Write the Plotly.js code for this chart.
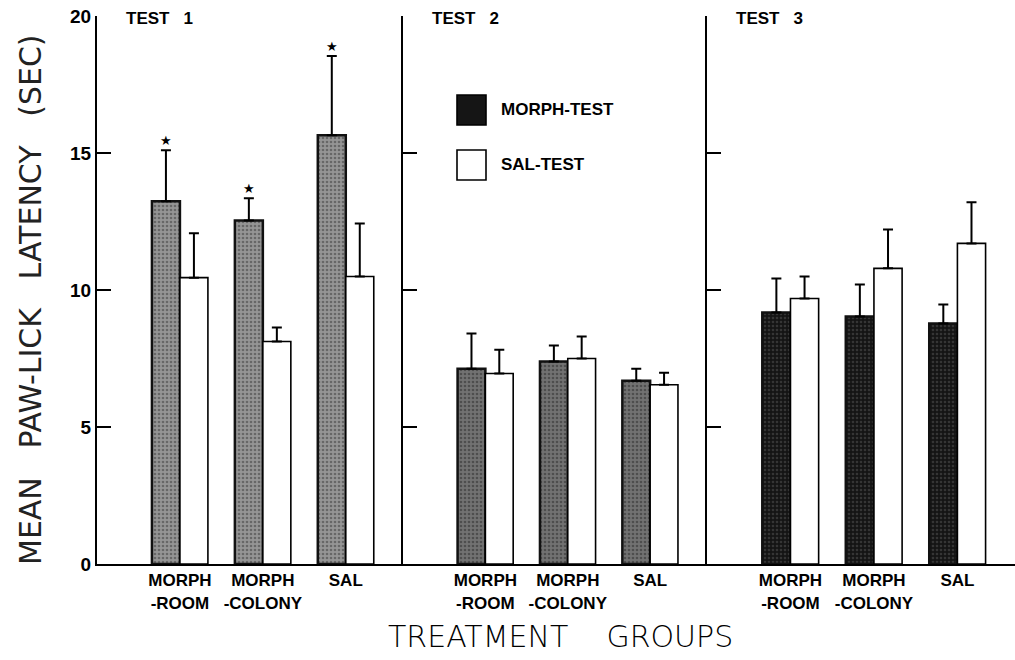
<!DOCTYPE html>
<html>
<head>
<meta charset="utf-8">
<script src="https://cdn.plot.ly/plotly-3.0.1.min.js"></script>
<style>html,body{margin:0;padding:0;background:#fff;}#chart{width:1015px;height:660px;}</style>
</head>
<body>
<div id="chart"></div>
<script>
// ---- data ----
const categories = ["MORPH<br>-ROOM", "MORPH<br>-COLONY", "SAL"];
const panelTitles = ["TEST\u00a0\u00a0\u00a01", "TEST\u00a0\u00a0\u00a02", "TEST\u00a0\u00a0\u00a03"];
const seriesNames = ["MORPH-TEST", "SAL-TEST"];

const test1Morph = [13.24, 12.54, 15.65];
const test1MorphErr = [1.86, 0.81, 2.89];
const test1Sal = [10.45, 8.12, 10.49];
const test1SalErr = [1.62, 0.51, 1.94];

const test2Morph = [7.13, 7.39, 6.69];
const test2MorphErr = [1.28, 0.58, 0.44];
const test2Sal = [6.95, 7.50, 6.54];
const test2SalErr = [0.87, 0.80, 0.44];

const test3Morph = [9.18, 9.03, 8.78];
const test3MorphErr = [1.24, 1.17, 0.69];
const test3Sal = [9.69, 10.79, 11.70];
const test3SalErr = [0.80, 1.42, 1.50];

const test1Significant = [true, true, true];
const yTicks = [0, 5, 10, 15, 20];

// ---- build ----
const morphData = [test1Morph, test2Morph, test3Morph];
const morphErr = [test1MorphErr, test2MorphErr, test3MorphErr];
const salData = [test1Sal, test2Sal, test3Sal];
const salErr = [test1SalErr, test2SalErr, test3SalErr];
const morphFill = ["#959595", "#727272", "#141414"];
const morphFg = ["#3a3a3a", "#2a2a2a", "#555555"];

const W = 1015, H = 660, L = 97, T = 16, B = 96;
const PW = W - L, PH = H - T - B;
const px2x = p => (p - L) / PW;
const py2y = p => (H - B - p) / PH;
const domains = [[0, px2x(403)], [px2x(403), px2x(707)], [px2x(707), 1]];

const traces = [];
for (let i = 0; i < 3; i++) {
  const xa = i === 0 ? "x" : "x" + (i + 1);
  const ya = i === 0 ? "y" : "y" + (i + 1);
  traces.push({
    type: "bar", x: categories, y: morphData[i], name: seriesNames[0],
    xaxis: xa, yaxis: ya, showlegend: false, offsetgroup: "m",
    marker: {
      color: morphFill[i],
      line: {color: "#111", width: 2.5},
      pattern: {shape: ".", bgcolor: morphFill[i], fgcolor: morphFg[i], size: 4, solidity: 0.35, fillmode: "overlay"}
    },
    error_y: {type: "data", symmetric: false, array: morphErr[i], arrayminus: morphErr[i].map(() => 0),
      color: "#000", thickness: 2, width: 5}
  });
  traces.push({
    type: "bar", x: categories, y: salData[i], name: seriesNames[1],
    xaxis: xa, yaxis: ya, showlegend: false, offsetgroup: "s",
    marker: {color: "#ffffff", line: {color: "#000", width: 1.6}},
    error_y: {type: "data", symmetric: false, array: salErr[i], arrayminus: salErr[i].map(() => 0),
      color: "#000", thickness: 2, width: 5}
  });
}

const tickFont = {family: "Liberation Sans, Arial, sans-serif", size: 17, color: "#000", weight: "bold"};
const yTickFont = {family: "Liberation Sans, Arial, sans-serif", size: 19, color: "#000", weight: "bold"};
const xTitleFont = {family: "DejaVu Sans, sans-serif", size: 30, color: "#000", weight: 200};
const yTitleFont = {family: "DejaVu Sans, sans-serif", size: 30, color: "#222", weight: "normal"};

const layout = {
  width: W, height: H,
  margin: {l: L, r: 0, t: T, b: B},
  paper_bgcolor: "#fff", plot_bgcolor: "#fff",
  barmode: "group", bargap: 0.325, bargroupgap: 0,
  showlegend: false,
  annotations: [], shapes: []
};

for (let i = 0; i < 3; i++) {
  const sfx = i === 0 ? "" : String(i + 1);
  layout["xaxis" + sfx] = {
    domain: domains[i], anchor: "y" + sfx, type: "category",
    range: [-1, 2.69], showline: true, linecolor: "#000", linewidth: 2,
    ticks: "", showgrid: false, zeroline: false, tickfont: tickFont, fixedrange: true
  };
  layout["yaxis" + sfx] = {
    domain: [0, 1], anchor: "x" + sfx, range: [0, 20],
    tickvals: yTicks, ticktext: yTicks.map(String),
    showticklabels: i === 0,
    ticks: "inside", ticklen: 14, tickwidth: 2, tickcolor: "#000",
    showline: true, linecolor: "#000", linewidth: 2,
    showgrid: false, zeroline: false, tickfont: yTickFont, fixedrange: true
  };
  layout.annotations.push({
    xref: "x" + sfx, yref: "paper", x: -1, y: 1, xanchor: "left", yanchor: "middle",
    xshift: 27, yshift: -2, text: panelTitles[i], showarrow: false, font: tickFont
  });
}

// significance stars (Test 1 MORPH bars)
test1Significant.forEach((sig, k) => {
  if (!sig) return;
  layout.annotations.push({
    xref: "x", yref: "y", x: categories[k], y: test1Morph[k] + test1MorphErr[k],
    xshift: -14, yanchor: "bottom", yshift: 0, text: "★", showarrow: false,
    font: {family: "DejaVu Sans, sans-serif", size: 13, color: "#000"}
  });
});

// legend (drawn manually)
const legendRows = [{py: 110, fill: "#151515", line: "#000"}, {py: 165, fill: "#ffffff", line: "#000"}];
legendRows.forEach((r, k) => {
  layout.shapes.push({
    type: "rect", xref: "paper", yref: "paper",
    x0: px2x(457), x1: px2x(486), y0: py2y(r.py + 15), y1: py2y(r.py - 15),
    fillcolor: r.fill, line: {color: r.line, width: 1.6}
  });
  layout.annotations.push({
    xref: "paper", yref: "paper", x: px2x(499), y: py2y(r.py), xanchor: "left", yanchor: "middle",
    text: seriesNames[k], showarrow: false, font: tickFont
  });
});

// axis titles
layout.annotations.push({
  xref: "paper", yref: "paper", x: px2x(560), y: py2y(636), xanchor: "center", yanchor: "middle",
  text: "TREATMENT\u00a0\u00a0\u00a0\u00a0GROUPS", showarrow: false, font: xTitleFont
});
layout.annotations.push({
  xref: "paper", yref: "paper", x: px2x(31), y: py2y(300), xanchor: "center", yanchor: "middle",
  textangle: -90, text: "MEAN\u00a0\u00a0\u00a0PAW-LICK\u00a0\u00a0\u00a0LATENCY\u00a0\u00a0\u00a0(SEC)", showarrow: false, font: yTitleFont
});

Plotly.newPlot("chart", traces, layout, {displayModeBar: false, staticPlot: true});
</script>
</body>
</html>
